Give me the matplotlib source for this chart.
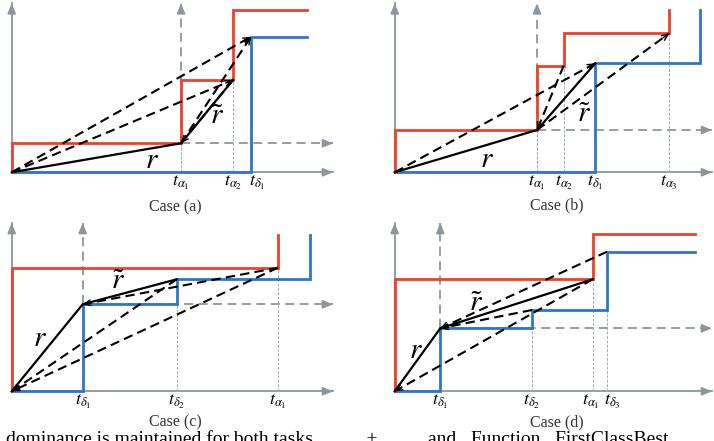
import matplotlib
matplotlib.use('Agg')
import matplotlib.pyplot as plt
import numpy as np

plt.rcParams['mathtext.fontset'] = 'stix'

RED = '#ee4129'
BLUE = '#2e77c2'
GRAY = '#8e959c'
THIN = '#a3abb4'

# ---- panel frames (figure pixels) ----
case_labels = ['Case (a)', 'Case (b)', 'Case (c)', 'Case (d)']
origin_x = [11.7, 394.7, 11.7, 394.7]
origin_y = [172.3, 172.3, 391.3, 391.3]
xaxis_len = [321.3, 317.3, 321.3, 317.3]
yaxis_len = [169.0, 169.0, 168.3, 168.3]

# ---- step curves (local units: time -> right, amount -> up) ----
red_x = [[0, 0, 169.3, 169.3, 221.3, 221.3, 295.3],
         [0, 0, 142.3, 142.3, 169, 169, 274.6, 274.6],
         [0, 0, 266.3, 266.3],
         [0, 0, 198, 198, 300.6]]
red_y = [[0, 29, 29, 92.3, 92.3, 162.3, 162.3],
         [0, 42.3, 42.3, 106.6, 106.6, 139, 139, 162.3],
         [0, 123.6, 123.6, 156.3],
         [0, 112, 112, 157, 157]]
blue_x = [[0, 239.3, 239.3, 295.3],
          [0, 200.6, 200.6, 305.6, 305.6],
          [0, 71, 71, 165, 165, 298.3, 298.3],
          [0, 45.6, 45.6, 137.3, 137.3, 212.3, 212.3, 300.6]]
blue_y = [[0, 0, 135.6, 135.6],
          [0, 0, 109, 109, 162.3],
          [0, 0, 87, 87, 112, 112, 156.3],
          [0, 0, 63, 63, 81.3, 81.3, 139.6, 139.6]]

# secondary (dashed) axes: vertical at time t, horizontal at level h
sec_t = [169.3, 142.3, 71, 45.6]
sec_h = [29, 42.3, 87, 63]

# thin dotted guides: (time, top level)
guide_t = [[169.3, 221.3], [142.3, 169, 274.6], [165, 266.3], [137.3, 198, 212.3]]
guide_top = [[29, 92.3], [42.3, 106.6, 139], [112, 123.6], [81.3, 112, 81.3]]

# solid path r -> r~
solid_x = [[0, 169.3, 221.3], [0, 142.3, 200.6], [0, 71, 165], [0, 45.6, 198]]
solid_y = [[0, 29, 92.3], [0, 42.3, 109], [0, 87, 112], [0, 63, 112]]

# dashed arrows (from -> to, head at 'to')
dash_from = [[(0, 0), (221.3, 92.3), (0, 0), (169.3, 29)],
             [(0, 0), (169, 106.6), (142.3, 42.3)],
             [(266.3, 123.6), (165, 112), (266.3, 123.6)],
             [(198, 112), (212.3, 139.6), (137.3, 81.3)]]
dash_to = [[(239.3, 135.6), (169.3, 29), (221.3, 92.3), (239.3, 135.6)],
           [(200.6, 109), (142.3, 42.3), (274.6, 139)],
           [(0, 0), (0, 0), (71, 87)],
           [(0, 0), (45.6, 63), (45.6, 63)]]

# tick labels
tick_t = [[169.3, 221.3, 245], [142.3, 169, 200.6, 274.6], [71, 165, 266.3], [45.6, 137.3, 196, 218]]
tick_txt = [[r'$t_{\alpha_1}$', r'$t_{\alpha_2}$', r'$t_{\delta_1}$'],
            [r'$t_{\alpha_1}$', r'$t_{\alpha_2}$', r'$t_{\delta_1}$', r'$t_{\alpha_3}$'],
            [r'$t_{\delta_1}$', r'$t_{\delta_2}$', r'$t_{\alpha_1}$'],
            [r'$t_{\delta_1}$', r'$t_{\delta_2}$', r'$t_{\alpha_1}$', r'$t_{\delta_3}$']]

# curve labels r and r~
r_pos = [(140, 12), (92, 13), (28, 53), (21, 41)]
rt_pos = [(205, 56), (189, 58), (106, 110), (81, 88)]
case_pos = [(163.3, -35.2), (162.3, -33.5), (163.3, -31), (162.3, -31)]

bottom_text = ['dominance is maintained for both tasks.          +',
               'and   Function   FirstClassBest']
bottom_x = [6, 428]

fig = plt.figure(figsize=(7.14, 4.41), dpi=100)
ax = fig.add_axes([0, 0, 1, 1])
ax.set_xlim(0, 714)
ax.set_ylim(441, 0)
ax.axis('off')


def tr(i, x, y):
    return origin_x[i] + np.asarray(x, float), origin_y[i] - np.asarray(y, float)


def gray_arrow(i, p0, p1, ls='-'):
    x0, y0 = tr(i, [p0[0]], [p0[1]])
    x1, y1 = tr(i, [p1[0]], [p1[1]])
    ax.plot([x0[0], x1[0]], [y0[0], y1[0]], color=GRAY, lw=1.3, ls=ls,
            dashes=(5, 3) if ls == '--' else (None, None), zorder=1)
    dx = 0 if x1[0] == x0[0] else 6
    dy = 0 if y1[0] == y0[0] else -6
    ax.annotate('', xy=(x1[0], y1[0]), xytext=(x1[0] - dx, y1[0] - dy),
                arrowprops=dict(arrowstyle='-|>,head_length=0.6,head_width=0.25',
                                color=GRAY, lw=1.2, shrinkA=0, shrinkB=0), zorder=1)


for i in range(4):
    # main axes
    gray_arrow(i, (0, 0), (xaxis_len[i], 0))
    gray_arrow(i, (0, 0), (0, yaxis_len[i]))
    # secondary dashed axes
    gray_arrow(i, (sec_t[i], sec_h[i]), (sec_t[i], yaxis_len[i]), ls='--')
    gray_arrow(i, (sec_t[i], sec_h[i]), (xaxis_len[i], sec_h[i]), ls='--')
    # thin guides
    gx, gy = tr(i, [sec_t[i], sec_t[i]], [0, sec_h[i]])
    ax.plot(gx, gy, color=THIN, lw=0.7, dashes=(3, 1.5), zorder=1)
    for t, top in zip(guide_t[i], guide_top[i]):
        gx, gy = tr(i, [t, t], [0, top])
        ax.plot(gx, gy, color=THIN, lw=0.7, dashes=(3, 1.5), zorder=1)
    # step curves
    bx, by = tr(i, blue_x[i], blue_y[i])
    ax.plot(bx, by, color=BLUE, lw=2.0, zorder=3, solid_joinstyle='miter')
    rx, ry = tr(i, red_x[i], red_y[i])
    ax.plot(rx, ry, color=RED, lw=2.0, zorder=3, solid_joinstyle='miter')
    # dashed arrows
    for p0, p1 in zip(dash_from[i], dash_to[i]):
        x, y = tr(i, [p0[0], p1[0]], [p0[1], p1[1]])
        ax.plot(x, y, color='black', lw=1.5, dashes=(4.5, 2.5), zorder=4)
        d = np.array([x[1] - x[0], y[1] - y[0]])
        d = d / np.hypot(*d)
        ax.annotate('', xy=(x[1], y[1]), xytext=(x[1] - d[0] * 8, y[1] - d[1] * 8),
                    arrowprops=dict(arrowstyle='->,head_length=0.45,head_width=0.2',
                                    color='black', lw=1.0, shrinkA=0, shrinkB=0), zorder=4)
    # solid path
    sx, sy = tr(i, solid_x[i], solid_y[i])
    ax.plot(sx, sy, color='black', lw=1.6, zorder=5)
    # tick labels
    for t, s in zip(tick_t[i], tick_txt[i]):
        x, y = tr(i, [t], [-11])
        ax.text(x[0], y[0], s, ha='center', va='center', fontsize=13, zorder=6)
    # r labels
    x, y = tr(i, [r_pos[i][0]], [r_pos[i][1]])
    ax.text(x[0], y[0], r'$r$', ha='center', va='center', fontsize=21, zorder=6)
    x, y = tr(i, [rt_pos[i][0]], [rt_pos[i][1]])
    ax.text(x[0], y[0], r'$\tilde{r}$', ha='center', va='center', fontsize=21, zorder=6)
    # case label
    x, y = tr(i, [case_pos[i][0]], [case_pos[i][1]])
    ax.text(x[0], y[0], case_labels[i], ha='center', va='center', fontsize=11.5,
            family='Liberation Serif', color='#333333', zorder=6)

for s, x in zip(bottom_text, bottom_x):
    ax.text(x, 431, s, ha='left', va='top', fontsize=14, family='Liberation Serif',
            color='black', clip_on=True)

fig.savefig('out.png', dpi=100, facecolor='white')
